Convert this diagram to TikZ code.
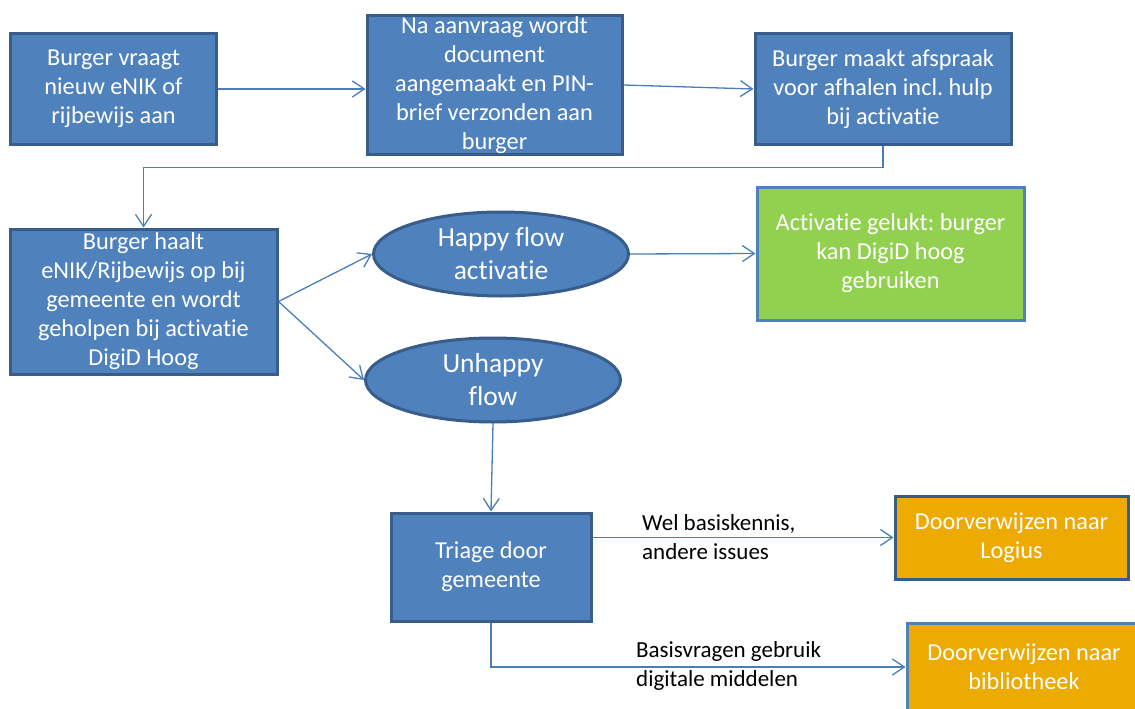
\documentclass[tikz,border=0pt]{standalone}
\usepackage{fontspec}
\setmainfont{Carlito}[Ligatures=NoCommon]
\usetikzlibrary{shapes.geometric,arrows.meta}
\frenchspacing

\definecolor{vlakblauw}{RGB}{79,129,189}
\definecolor{randblauw}{RGB}{56,93,138}
\definecolor{lijnblauw}{RGB}{74,126,187}
\definecolor{vlakgroen}{RGB}{146,208,80}
\definecolor{vlakoranje}{RGB}{237,170,0}

\begin{document}
\begin{tikzpicture}[x=1pt,y=-1pt,
    stapnode/.style={rectangle, draw=randblauw, fill=vlakblauw, line width=3pt, text=white, align=center, inner sep=0pt, font=\fontsize{24.3}{29}\selectfont},
    flownode/.style={ellipse, draw=randblauw, fill=vlakblauw, line width=3pt, text=white, align=center, inner sep=0pt, minimum width=255, minimum height=84, font=\fontsize{27.5}{33}\selectfont},
    gelukt/.style={stapnode, draw=vlakblauw, fill=vlakgroen},
    verwijs/.style={stapnode, fill=vlakoranje},
    labeltekst/.style={align=left, inner sep=0pt, anchor=west, font=\fontsize{23}{29}\selectfont},
    pijl/.style={draw=lijnblauw, line width=1.3pt, -{Straight Barb[length=12pt,width=16pt]}},]
    \useasboundingbox (0,0) rectangle (1135,709);
    % nodes
    \node[stapnode, minimum width=206, minimum height=110] (aanvraag)    at (113.5,89)   {Burger vraagt\\nieuw eNIK of\\rijbewijs aan};
    \node[stapnode, minimum width=255, minimum height=138] (document)    at (494.5,85)   {Na aanvraag wordt\\document\\aangemaakt en PIN-\\brief verzonden aan\\burger};
    \node[stapnode, minimum width=256, minimum height=110] (afspraak)    at (883,89)     {Burger maakt afspraak\\voor afhalen incl. hulp\\bij activatie};
    \node[stapnode, minimum width=267, minimum height=145] (ophalen)     at (143.5,301.5) {Burger haalt\\eNIK/Rijbewijs op bij\\gemeente en wordt\\geholpen bij activatie\\DigiD Hoog};
    \node[flownode]                                        (happy)       at (501,254)    {Happy flow\\activatie};
    \node[flownode]                                        (unhappy)     at (493,380)    {Unhappy\\flow};
    \node[gelukt, minimum width=267, minimum height=133]   (geslaagd)    at (890.5,253.5) {Activatie gelukt: burger\\kan DigiD hoog\\gebruiken};
    \node[stapnode, minimum width=200, minimum height=108] (triage)      at (491,567)    {Triage door\\gemeente};
    \node[verwijs, minimum width=233, minimum height=83]   (logius)      at (1011.5,537.5) {Doorverwijzen naar\\Logius};
    \node[verwijs, draw=vlakblauw, minimum width=234, minimum height=88] (bibliotheek) at (1024,667) {Doorverwijzen naar\\bibliotheek};
    \node[labeltekst] (kennis)   at (642,537) {Wel basiskennis,\\andere issues};
    \node[labeltekst] (basis)    at (636,666) {Basisvragen gebruik\\digitale middelen};
    % lines
    \draw[pijl] (aanvraag.east) -- (aanvraag.east -| document.west);
    \draw[pijl] (document.east) -- (afspraak.west);
    \draw[pijl] (afspraak.south) -- ++(0,22) -| (ophalen.north);
    \draw[pijl] (ophalen.east) -- (happy.west);
    \draw[pijl] (ophalen.east) -- (unhappy.west);
    \draw[pijl] (happy.east) -- (geslaagd.west);
    \draw[pijl] (unhappy.south) -- (triage.north);
    \draw[pijl] (triage.east |- logius.west) -- (logius.west);
    \draw[pijl] (triage.south) |- (bibliotheek.west);
\end{tikzpicture}
\end{document}
